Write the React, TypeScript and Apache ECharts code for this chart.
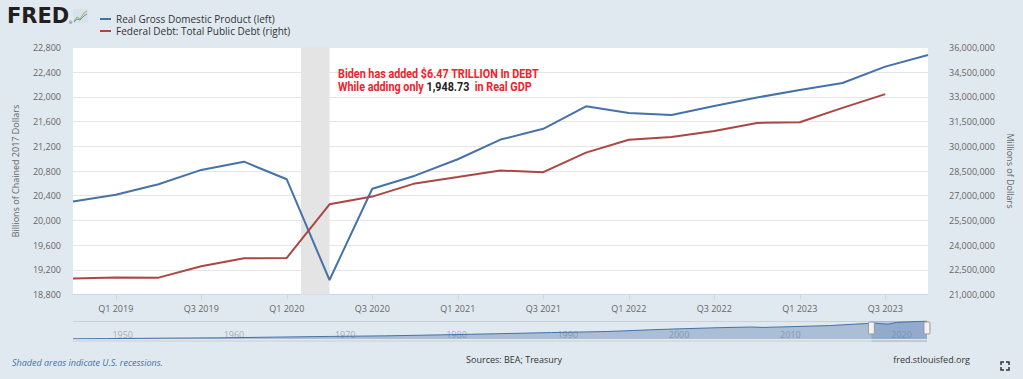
import React, { useEffect, useRef } from "react";
import * as echarts from "echarts";

const quarters = [
  "Q4 2018", "Q1 2019", "Q2 2019", "Q3 2019", "Q4 2019", "Q1 2020", "Q2 2020",
  "Q3 2020", "Q4 2020", "Q1 2021", "Q2 2021", "Q3 2021", "Q4 2021", "Q1 2022",
  "Q2 2022", "Q3 2022", "Q4 2022", "Q1 2023", "Q2 2023", "Q3 2023", "Q4 2023",
];
// Real GDP, billions of chained 2017 dollars (left axis)
const gdp = [
  20304.9, 20415.2, 20584.5, 20817.6, 20951.1, 20665.6, 19034.8, 20511.8,
  20724.1, 20990.5, 21309.5, 21483.1, 21847.6, 21738.9, 21708.2, 21851.1,
  21990.0, 22112.3, 22225.4, 22490.7, 22679.3,
];
// Federal debt, millions of dollars (right axis), ends Q3 2023
const debt = [
  21974096, 22027880, 22023283, 22719402, 23201380, 23223813, 26477159,
  26945391, 27747798, 28132570, 28529436, 28428919, 29617215, 30400960,
  30568582, 30928912, 31419689, 31458438, 32332274, 33167334,
];
const tickIdx = [1, 3, 5, 7, 9, 11, 13, 15, 17, 19];
const recession = [5.333, 6.0];

// Navigator (full history of GDP, coarse)
const navYears = [1947, 1950, 1955, 1960, 1965, 1970, 1975, 1980, 1985, 1990, 1995, 2000, 2005, 2008, 2009, 2010, 2015, 2019, 2020.25, 2021, 2023.75];
const navGdp = [2180, 2450, 2950, 3300, 4150, 4950, 5600, 6750, 8000, 9400, 10600, 13100, 15000, 15800, 15300, 15650, 17400, 20300, 19000, 21000, 22680];
const navTicks = [1950, 1960, 1970, 1980, 1990, 2000, 2010, 2020];
const navRange = [2018.75, 2023.75];

const BLUE = "#4572a7";
const RED = "#aa4643";
const FONT = "'Open Sans', 'DejaVu Sans', sans-serif";

const fmt = (v: number) => Math.round(v).toLocaleString("en-US");

export default function App() {
  const ref = useRef<HTMLDivElement>(null);
  useEffect(() => {
    document.body.style.margin = "0";
    const chart = echarts.init(ref.current!, null, { renderer: "svg" });
    const option: any = {
      animation: false,
      backgroundColor: "#e1e9f0",
      textStyle: { fontFamily: FONT },
      legend: {
        orient: "vertical",
        left: 95,
        top: 9,
        itemWidth: 11,
        itemHeight: 2,
        itemGap: 2,
        icon: "rect",
        selectedMode: false,
        data: ["Real Gross Domestic Product (left)", "Federal Debt: Total Public Debt (right)"],
        textStyle: { fontSize: 10, color: "#333", fontFamily: FONT, padding: [0, 0, 0, 0] },
      },
      grid: [
        { left: 73, top: 47.5, width: 855, height: 247, show: true, backgroundColor: "#fff", borderWidth: 0, outerBoundsMode: "none" },
        { left: 73, top: 321, width: 854, height: 18, show: false, outerBoundsMode: "none" },
      ],
      xAxis: [
        {
          type: "value", gridIndex: 0, min: 0, max: quarters.length - 1,
          axisLine: { show: true, lineStyle: { color: "#ccd6eb" } },
          axisTick: { show: true, length: 5, lineStyle: { color: "#ccd6eb" }, customValues: tickIdx },
          axisLabel: {
            customValues: tickIdx, margin: 9, fontSize: 9, color: "#666", fontFamily: FONT,
            formatter: (v: number) => quarters[Math.round(v)] || "",
          },
          splitLine: { show: false },
        },
        {
          type: "value", gridIndex: 1, min: navYears[0], max: navYears[navYears.length - 1],
          axisLine: { show: false }, axisTick: { show: false }, splitLine: { show: false },
          axisLabel: {
            customValues: navTicks, inside: true, margin: 0, align: "left", padding: [0, 0, 0, 6],
            fontSize: 9, color: "#a5adb6", fontFamily: FONT, formatter: (v: number) => String(v),
          },
        },
      ],
      yAxis: [
        {
          type: "value", gridIndex: 0, min: 18800, max: 22800, interval: 400,
          name: "Billions of Chained 2017 Dollars", nameLocation: "middle", nameGap: 53, nameRotate: 90,
          nameTextStyle: { fontSize: 9, color: "#666", fontFamily: FONT },
          axisLine: { show: false }, axisTick: { show: false },
          axisLabel: { fontSize: 9, color: "#666", margin: 12, fontFamily: FONT, formatter: fmt, padding: [0, 0, 9, 0] },
          splitLine: { lineStyle: { color: "#e6e6e6" } },
        },
        {
          type: "value", gridIndex: 0, position: "right", min: 21000000, max: 36000000, interval: 1500000,
          name: "Millions of Dollars", nameLocation: "middle", nameGap: 68, nameRotate: -90,
          nameTextStyle: { fontSize: 9, color: "#666", fontFamily: FONT },
          axisLine: { show: false }, axisTick: { show: false },
          axisLabel: { fontSize: 9, color: "#666", margin: 21, fontFamily: FONT, formatter: fmt, padding: [0, 0, 9, 0] },
          splitLine: { show: false },
        },
        { type: "value", gridIndex: 1, min: 2000, max: 22700, show: false },
      ],
      series: [
        {
          name: "recession", type: "line", xAxisIndex: 0, yAxisIndex: 0, data: [], z: 1, silent: true,
          markArea: {
            silent: true,
            itemStyle: { color: "#e4e4e4" },
            data: [[{ xAxis: recession[0] }, { xAxis: recession[1] }]],
          },
        },
        {
          name: "Real Gross Domestic Product (left)", type: "line", xAxisIndex: 0, yAxisIndex: 0, z: 3,
          data: gdp.map((v, i) => [i, v]), showSymbol: false, symbol: "none",
          lineStyle: { color: BLUE, width: 2 }, itemStyle: { color: BLUE },
        },
        {
          name: "Federal Debt: Total Public Debt (right)", type: "line", xAxisIndex: 0, yAxisIndex: 1, z: 3,
          data: debt.map((v, i) => [i, v]), showSymbol: false, symbol: "none",
          lineStyle: { color: RED, width: 2 }, itemStyle: { color: RED },
        },
        {
          name: "nav", type: "line", xAxisIndex: 1, yAxisIndex: 2, silent: true,
          data: navYears.map((y, i) => [y, navGdp[i]]), showSymbol: false, symbol: "none",
          lineStyle: { color: BLUE, width: 1 },
          areaStyle: { color: "rgba(69,114,167,0.5)", origin: "start" },
          markArea: {
            silent: true,
            itemStyle: { color: "rgba(102,133,194,0.3)" },
            data: [[{ xAxis: navRange[0] }, { xAxis: navRange[1] }]],
          },
        },
      ],
    };
    chart.setOption(option);

    const h0 = chart.convertToPixel({ xAxisIndex: 1 }, navRange[0]) as number;
    const h1 = chart.convertToPixel({ xAxisIndex: 1 }, navRange[1]) as number;
    const handle = (x: number) => ({
      type: "rect", shape: { x: x - 3, y: 322, width: 6, height: 12, r: 1 },
      style: { fill: "#f2f2f2", stroke: "#999", lineWidth: 1 }, z: 10,
    });
    const corner = (cx: number, cy: number, dx: number, dy: number) => ({
      type: "polyline",
      shape: { points: [[cx + dx * 4, cy + dy * 1], [cx + dx * 4, cy + dy * 4], [cx + dx * 1, cy + dy * 4]] },
      style: { stroke: "#333", lineWidth: 1.5, fill: null },
    });
    chart.setOption({
      graphic: [
        { type: "text", x: 7, y: 16, style: { text: "FRED", fontFamily: "'DejaVu Sans', sans-serif", fontWeight: 900, fontSize: 21, fill: "#231f20", verticalAlign: "middle" } },
        { type: "text", x: 69, y: 20, style: { text: "®", fontSize: 4, fill: "#231f20", fontFamily: FONT } },
        { type: "rect", shape: { x: 73, y: 9, width: 15, height: 14 }, style: { fill: "#d9e2ea" } },
        { type: "polyline", shape: { points: [[74, 21], [77, 17], [80, 19], [84, 13], [87, 11]] }, style: { stroke: "#8dba4c", lineWidth: 1, fill: null } },
        { type: "polyline", shape: { points: [[74, 22], [77, 19], [80, 20], [84, 16], [87, 14]] }, style: { stroke: "#6f8fb8", lineWidth: 1, fill: null } },
        {
          type: "text", x: 338, y: 67.5, scaleX: 0.83, z: 20,
          style: {
            text: "{r|Biden has added $6.47 TRILLION In DEBT}\n{r|While adding only }{b|1,948.73}{r|  in Real GDP}",
            verticalAlign: "top",
            rich: {
              r: { fill: "#f0222c", color: "#f0222c", fontSize: 13, fontWeight: "bold", fontFamily: "Roboto, 'Liberation Sans', sans-serif", lineHeight: 13 },
              b: { fill: "#222", color: "#222", fontSize: 13, fontWeight: "bold", fontFamily: "Roboto, 'Liberation Sans', sans-serif", lineHeight: 13 },
            },
          },
        },
        { type: "line", shape: { x1: 73, y1: 321.5, x2: 927, y2: 321.5 }, style: { stroke: "#c9d2db", lineWidth: 1 } },
        { type: "rect", shape: { x: 73, y: 340, width: 854, height: 2 }, style: { fill: "#d3dbe3" } },
        { type: "rect", shape: { x: h0, y: 340, width: h1 - h0, height: 2 }, style: { fill: "#c0c8d0" } },
        handle(h0), handle(h1),
        { type: "text", x: 12, y: 362, style: { text: "Shaded areas indicate U.S. recessions.", fontFamily: FONT, fontStyle: "italic", fontSize: 9, fill: "#4572a7", verticalAlign: "middle" } },
        { type: "text", x: 514, y: 359, style: { text: "Sources: BEA; Treasury", fontFamily: FONT, fontSize: 9, fill: "#333", align: "center", verticalAlign: "middle" } },
        { type: "text", x: 970, y: 359, style: { text: "fred.stlouisfed.org", fontFamily: FONT, fontSize: 9, fill: "#333", align: "right", verticalAlign: "middle" } },
        corner(1005, 366, -1, -1), corner(1005, 366, 1, -1), corner(1005, 366, -1, 1), corner(1005, 366, 1, 1),
      ],
    });
    return () => chart.dispose();
  }, []);
  return <div ref={ref} style={{ width: 1023, height: 379 }} />;
}
